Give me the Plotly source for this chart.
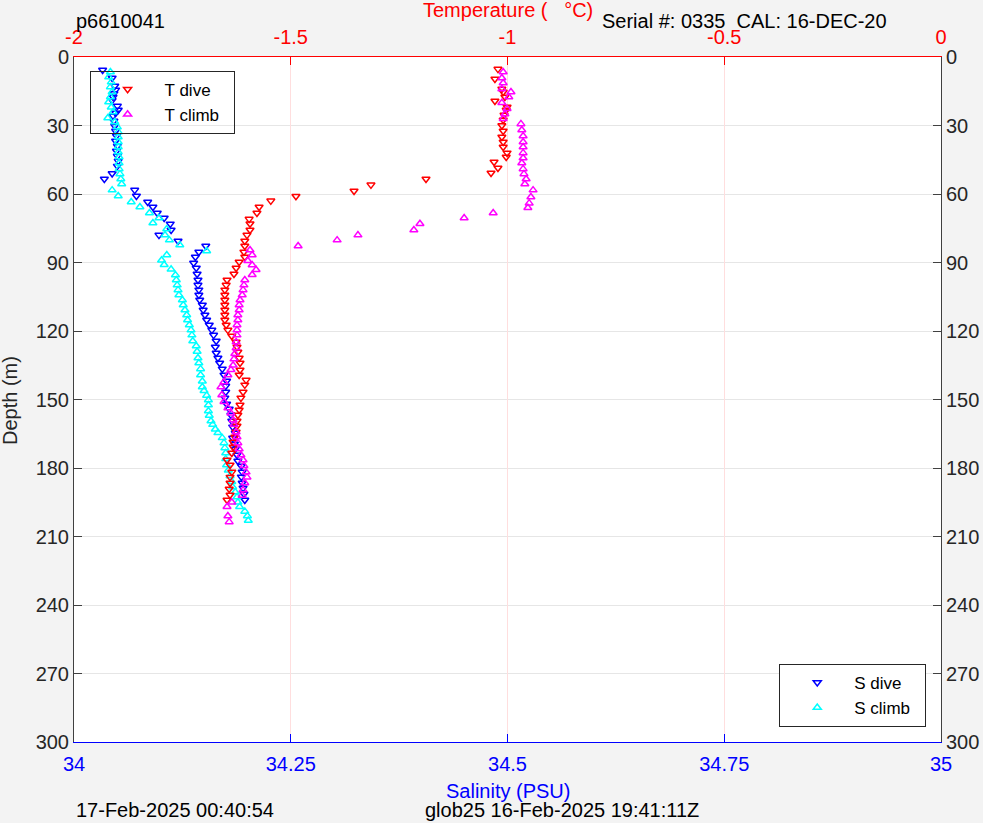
import plotly.graph_objects as go

# ---- Temperature dive (depth m, temperature C)
t_dive_depth = [5.3, 9.6, 14.0, 15.3, 17.5, 19.3, 21.9, 23.2, 25.4, 27.6, 30.0, 32.4, 35.0, 37.2,
                39.4, 42.0, 43.8, 46.0, 48.6, 50.8, 53.4, 56.0, 58.7, 61.0, 63.0, 65.7, 68.3, 71.0,
                73.0, 75.8, 78.0, 80.6, 82.8, 85.4, 87.6, 89.8, 92.4, 95.0, 97.7, 99.9, 102.0, 104.2,
                106.4, 108.6, 110.8, 113.0, 115.2, 117.4, 119.6, 122.2, 124.8, 127.0, 129.2, 131.8,
                134.0, 137.1, 139.3, 141.5, 143.6, 146.7, 149.3, 152.4, 154.6, 156.8, 159.4, 161.6,
                164.2, 166.4, 168.6, 170.8, 173.4, 176.5, 178.7, 181.8, 184.0, 186.6, 189.2, 191.8, 194.0]
t_dive_temp = [-1.022, -1.029, -1.013, -1.010, -1.006, -1.029, -1.001, -1.003, -1.008, -1.010, -1.013,
               -1.010, -1.013, -1.010, -1.010, -1.001, -1.003, -1.031, -1.022, -1.038, -1.188, -1.315,
               -1.354, -1.488, -1.546, -1.573, -1.578, -1.596, -1.594, -1.594, -1.601, -1.606, -1.606,
               -1.608, -1.606, -1.619, -1.626, -1.631, -1.647, -1.649, -1.652, -1.652, -1.652, -1.652,
               -1.652, -1.652, -1.652, -1.649, -1.645, -1.636, -1.626, -1.624, -1.622, -1.619, -1.617,
               -1.617, -1.619, -1.603, -1.606, -1.610, -1.615, -1.617, -1.619, -1.622, -1.624, -1.624,
               -1.626, -1.629, -1.633, -1.633, -1.636, -1.647, -1.640, -1.636, -1.640, -1.640, -1.642,
               -1.640, -1.647]

# ---- Temperature climb
t_climb_depth = [203.6, 201.0, 197.0, 195.0, 192.0, 189.6, 186.6, 184.0, 181.8, 179.0, 176.5, 174.3,
                 171.7, 169.0, 166.4, 164.2, 161.0, 159.0, 156.0, 153.7, 151.0, 148.0, 144.5, 142.3,
                 139.3, 137.0, 135.0, 132.3, 130.0, 127.4, 124.8, 121.8, 119.6, 117.4, 115.2, 113.0,
                 110.8, 108.6, 106.4, 104.2, 102.0, 99.9, 97.7, 95.4, 93.2, 91.1, 89.2, 86.7, 84.5,
                 82.8, 80.2, 78.0, 75.8, 73.0, 70.5, 68.3, 66.0, 64.0, 61.3, 58.3, 55.6, 53.4, 51.2,
                 49.0, 46.4, 44.2, 42.0, 39.4, 37.2, 34.6, 32.0, 29.3, 27.0, 25.0, 22.7, 20.0, 17.5,
                 15.3, 14.0, 11.4, 9.2, 6.6]
t_climb_temp = [-1.642, -1.645, -1.647, -1.636, -1.612, -1.610, -1.606, -1.601, -1.603, -1.608, -1.610,
                -1.615, -1.619, -1.622, -1.624, -1.626, -1.631, -1.633, -1.638, -1.645, -1.654, -1.659,
                -1.661, -1.654, -1.645, -1.638, -1.633, -1.631, -1.629, -1.626, -1.626, -1.624, -1.624,
                -1.624, -1.622, -1.622, -1.619, -1.619, -1.617, -1.612, -1.610, -1.608, -1.606, -1.589,
                -1.580, -1.589, -1.599, -1.589, -1.594, -1.483, -1.393, -1.345, -1.216, -1.202, -1.100,
                -1.033, -0.953, -0.950, -0.946, -0.941, -0.960, -0.957, -0.962, -0.964, -0.967, -0.964,
                -0.964, -0.964, -0.964, -0.964, -0.967, -0.969, -1.010, -1.006, -1.001, -1.013, -0.997,
                -0.992, -1.013, -1.010, -1.013, -1.010]

# ---- Salinity dive (depth m, PSU)
s_dive_depth = [5.7, 9.2, 12.7, 14.4, 16.0, 17.5, 19.0, 21.5, 23.2, 24.5, 25.8, 28.0, 30.2, 32.4, 34.6,
                36.8, 39.0, 41.2, 43.4, 45.6, 47.8, 51.0, 53.4, 58.3, 60.9, 63.5, 65.7, 68.3, 70.5,
                73.1, 75.8, 78.0, 80.6, 82.8, 85.4, 87.6, 90.2, 92.4, 95.0, 97.7, 99.9, 102.0, 104.2,
                106.4, 108.6, 110.8, 113.0, 115.2, 117.4, 119.6, 121.8, 124.4, 127.0, 129.6, 131.8,
                134.0, 136.6, 139.3, 141.9, 144.1, 146.7, 149.3, 152.0, 154.2, 156.8, 159.4, 162.0,
                164.7, 166.9, 169.5, 171.7, 174.3, 176.9, 179.1, 181.8, 183.9, 186.6, 188.8, 191.4, 194.0]
s_dive_sal = [34.033, 34.044, 34.047, 34.048, 34.046, 34.045, 34.044, 34.050, 34.051, 34.048, 34.045,
              34.046, 34.047, 34.048, 34.049, 34.048, 34.050, 34.049, 34.050, 34.051, 34.050, 34.044,
              34.035, 34.070, 34.072, 34.085, 34.091, 34.096, 34.104, 34.111, 34.112, 34.098, 34.120,
              34.152, 34.144, 34.140, 34.138, 34.141, 34.142, 34.143, 34.143, 34.144, 34.144, 34.145,
              34.148, 34.149, 34.151, 34.153, 34.156, 34.159, 34.161, 34.164, 34.163, 34.164, 34.166,
              34.168, 34.171, 34.173, 34.176, 34.175, 34.175, 34.174, 34.176, 34.179, 34.181, 34.182,
              34.183, 34.186, 34.183, 34.185, 34.186, 34.188, 34.189, 34.193, 34.194, 34.193, 34.194,
              34.195, 34.196, 34.197]

# ---- Salinity climb
s_climb_depth = [6.6, 8.8, 11.0, 13.1, 15.3, 17.5, 19.7, 22.0, 24.1, 26.7, 28.5, 30.7, 32.8, 35.0,
                 37.2, 39.4, 41.6, 43.8, 46.4, 49.0, 51.2, 53.4, 55.6, 58.3, 60.9, 63.5, 65.7, 68.3,
                 70.5, 72.7, 75.3, 78.0, 80.2, 82.3, 85.0, 86.7, 89.0, 91.0, 93.0, 95.5, 97.7, 99.9,
                 102.0, 104.2, 106.4, 108.6, 110.8, 113.0, 115.2, 117.4, 119.6, 121.8, 124.4, 126.6,
                 129.0, 131.8, 134.0, 136.6, 139.3, 142.0, 144.5, 146.2, 148.2, 150.2, 152.4, 155.0,
                 157.0, 159.4, 161.0, 163.0, 164.6, 166.8, 169.0, 171.2, 173.4, 176.0, 178.7, 181.0,
                 183.5, 186.0, 188.3, 190.5, 192.7, 195.0, 197.0, 199.0, 201.0, 203.0]
s_climb_sal = [34.042, 34.040, 34.043, 34.042, 34.044, 34.042, 34.040, 34.043, 34.045, 34.039, 34.047,
               34.050, 34.051, 34.051, 34.051, 34.051, 34.051, 34.052, 34.052, 34.052, 34.053, 34.054,
               34.055, 34.044, 34.051, 34.066, 34.076, 34.087, 34.098, 34.091, 34.107, 34.105, 34.110,
               34.122, 34.153, 34.107, 34.101, 34.104, 34.112, 34.117, 34.118, 34.119, 34.120, 34.121,
               34.125, 34.126, 34.128, 34.130, 34.131, 34.133, 34.135, 34.136, 34.137, 34.141, 34.142,
               34.143, 34.144, 34.146, 34.146, 34.148, 34.148, 34.150, 34.153, 34.155, 34.155, 34.155,
               34.156, 34.158, 34.160, 34.163, 34.166, 34.171, 34.173, 34.174, 34.175, 34.175, 34.176,
               34.178, 34.180, 34.182, 34.183, 34.186, 34.188, 34.189, 34.191, 34.197, 34.200, 34.201]

sal_ticks = [34, 34.25, 34.5, 34.75, 35]
sal_labels = ["34", "34.25", "34.5", "34.75", "35"]
temp_ticks = [-2, -1.5, -1, -0.5, 0]
temp_labels = ["-2", "-1.5", "-1", "-0.5", "0"]
depth_ticks = [0, 30, 60, 90, 120, 150, 180, 210, 240, 270, 300]

FONT = "Liberation Sans, Arial, sans-serif"
fs = 20
lfs = 17

def mk(sym, color):
    return dict(symbol=sym, size=7, color=color, line=dict(color=color, width=1.5))

fig = go.Figure()
fig.add_trace(go.Scatter(x=t_dive_temp, y=t_dive_depth, mode="markers", name="T dive",
                         marker=mk("triangle-down-open", "#ff0000"), xaxis="x2", yaxis="y",
                         legend="legend"))
fig.add_trace(go.Scatter(x=t_climb_temp, y=t_climb_depth, mode="markers", name="T climb\u00a0\u00a0",
                         marker=mk("triangle-up-open", "#ff00ff"), xaxis="x2", yaxis="y",
                         legend="legend"))
fig.add_trace(go.Scatter(x=s_dive_sal, y=s_dive_depth, mode="markers", name="S dive",
                         marker=mk("triangle-down-open", "#0000ff"), xaxis="x", yaxis="y",
                         legend="legend2"))
fig.add_trace(go.Scatter(x=s_climb_sal, y=s_climb_depth, mode="markers", name="S climb\u00a0\u00a0",
                         marker=mk("triangle-up-open", "#00ffff"), xaxis="x", yaxis="y",
                         legend="legend2"))
# empty trace to activate the right-hand depth axis
fig.add_trace(go.Scatter(x=[], y=[], xaxis="x", yaxis="y2", showlegend=False, hoverinfo="skip"))

axis_font = dict(family=FONT, size=fs, color="#262626")

fig.update_layout(
    width=983, height=823,
    margin=dict(l=74, r=42, t=57, b=81, autoexpand=False),
    paper_bgcolor="#f3f3f3", plot_bgcolor="#ffffff",
    font=dict(family=FONT, size=fs, color="#262626"),
    xaxis=dict(range=[34, 35], tickvals=sal_ticks, ticktext=sal_labels, side="bottom",
               automargin=False,
               showgrid=False, zeroline=False, showline=True, linecolor="#0000ff", linewidth=1,
               ticks="inside", ticklen=8, tickcolor="#0000ff", ticklabelstandoff=4,
               tickfont=dict(family=FONT, size=fs, color="#0000ff")),
    xaxis2=dict(range=[-2, 0], tickvals=temp_ticks, ticktext=temp_labels, side="top",
                overlaying="x", automargin=False,
                showgrid=True, gridcolor="#ffdede", gridwidth=1, zeroline=False,
                showline=True, linecolor="#ff0000", linewidth=1, ticks="inside", ticklen=8,
                tickcolor="#ff0000", ticklabelstandoff=4,
                tickfont=dict(family=FONT, size=fs, color="#ff0000")),
    yaxis=dict(range=[300, 0], tickvals=depth_ticks, showgrid=True, gridcolor="#e6e6e6",
               automargin=False,
               gridwidth=1, zeroline=False, showline=True, linecolor="#404040", linewidth=1,
               ticks="inside", ticklen=8, tickcolor="#404040", tickfont=axis_font),
    yaxis2=dict(range=[300, 0], tickvals=depth_ticks, side="right", overlaying="y",
                automargin=False,
                showgrid=False, zeroline=False, showline=True, linecolor="#404040", linewidth=1,
                ticks="inside", ticklen=8, tickcolor="#404040", tickfont=axis_font),
    legend=dict(x=0.018, y=0.98, xanchor="left", yanchor="top", bgcolor="rgba(255,255,255,0)",
                bordercolor="#262626", borderwidth=1, font=dict(family=FONT, size=lfs, color="#000000"),
                itemwidth=64, tracegroupgap=0),
    legend2=dict(x=0.983, y=0.022, xanchor="right", yanchor="bottom", bgcolor="#ffffff",
                 bordercolor="#262626", borderwidth=1, font=dict(family=FONT, size=lfs, color="#000000"),
                 itemwidth=64, tracegroupgap=0),
    showlegend=True,
)

ann = [
    dict(text="Temperature (   °C)", x=0.5, y=1.068, color="#ff0000", xanchor="center"),
    dict(text="p6610041", x=0.0, y=1.0526, color="#000000", xanchor="left"),
    dict(text="Serial #: 0335  CAL: 16-DEC-20", x=0.607, y=1.0526, color="#000000", xanchor="left"),
    dict(text="Salinity (PSU)", x=0.5, y=-0.0715, color="#0000ff", xanchor="center"),
    dict(text="17-Feb-2025 00:40:54", x=0.0, y=-0.099, color="#000000", xanchor="left"),
    dict(text="glob25 16-Feb-2025 19:41:11Z", x=0.4025, y=-0.099, color="#000000", xanchor="left"),
]
for a in ann:
    fig.add_annotation(text=a["text"].replace("  ", "\u00a0 "), x=a["x"], y=a["y"], xref="paper",
                       yref="paper", xanchor=a["xanchor"], yanchor="middle", showarrow=False,
                       font=dict(family=FONT, size=fs, color=a["color"]))
fig.add_annotation(text="Depth (m)", x=-0.074, y=0.499, xref="paper", yref="paper", textangle=-90,
                   xanchor="center", yanchor="middle", showarrow=False,
                   font=dict(family=FONT, size=fs, color="#262626"))

fig.write_html("out.html", config={"displayModeBar": False},
               post_script="document.body.style.margin='0';document.body.style.overflow='hidden';")
